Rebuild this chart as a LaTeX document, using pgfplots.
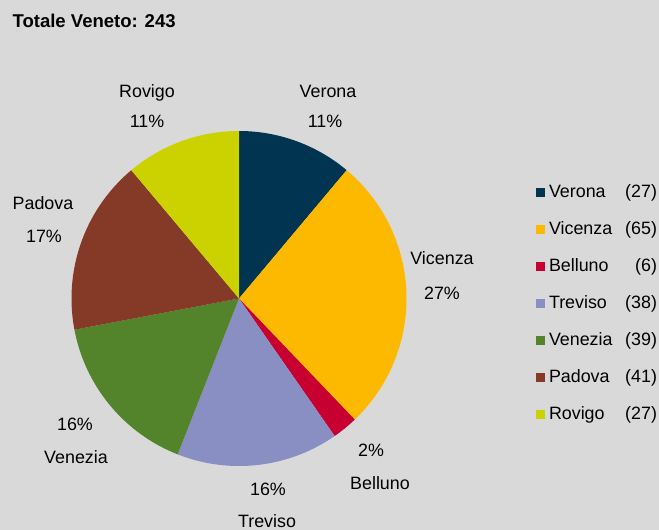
\documentclass[border=0pt]{standalone}
\usepackage{pgfplots}
\usepackage{pgfplotstable}
\pgfplotsset{compat=1.18}
\usepackage{fontspec}
\setmainfont{Liberation Sans}
\definecolor{bg}{RGB}{217,217,217}
\definecolor{c0}{RGB}{0,52,80}
\definecolor{c1}{RGB}{252,185,0}
\definecolor{c2}{RGB}{200,0,50}
\definecolor{c3}{RGB}{137,142,195}
\definecolor{c4}{RGB}{83,132,44}
\definecolor{c5}{RGB}{132,58,38}
\definecolor{c6}{RGB}{204,210,0}
\pgfplotstableread{
name value
Verona 27
Vicenza 65
Belluno 6
Treviso 38
Venezia 39
Padova 41
Rovigo 27
}\datatable
\newcommand\lfont{\fontsize{13.4}{16}\selectfont}
\begin{document}
\begin{tikzpicture}
\begin{axis}[
  scale only axis, width=494.25pt, height=397.5pt,
  xmin=0, xmax=659, ymin=0, ymax=530, y dir=reverse,
  hide axis, clip=false,
  legend style={at={(axis cs:536,184.6)}, anchor=north west, draw=none, fill=none,
    inner sep=0pt, outer sep=0pt, row sep=14.75pt, column sep=3pt,
    nodes={inner sep=0pt, text height=10pt, text depth=3pt, anchor=base west},
    font=\lfont},
  legend cell align=left,
]
\fill[bg] (axis cs:0,0) rectangle (axis cs:659,530);
\pgfmathsetmacro\cum{0}
\pgfplotsforeachungrouped \i in {0,...,6}{%
  \pgfplotstablegetelem{\i}{value}\of\datatable
  \let\val\pgfplotsretval
  \pgfplotstablegetelem{\i}{name}\of\datatable
  \let\nm\pgfplotsretval
  \pgfmathsetmacro\start{90-\cum/243*360}%
  \pgfmathsetmacro\cum{\cum+\val}%
  \pgfmathsetmacro\stop{90-\cum/243*360}%
  \edef\temp{\noexpand\addplot[fill=c\i, draw=none, domain=\start:\stop, samples=90, variable=\noexpand\t,
     legend image code/.code={\noexpand\fill[c\i] (0pt,0.7pt) rectangle (6.75pt,7.45pt);}]
     ({239+167.5*cos(\noexpand\t)}, {298.5-167.5*sin(\noexpand\t)}) -- (axis cs:239,298.5) -- cycle;
     \noexpand\addlegendentry{\noexpand\makebox[81pt][l]{\nm\noexpand\hfill(\val)}}}%
  \temp
}
\node[font=\fontsize{13.9}{16}\selectfont\bfseries, anchor=west, inner sep=0pt] at (axis cs:12.3,20.5) {Totale Veneto: 243};
\begin{scope}[every node/.style={font=\lfont, anchor=base, inner sep=0pt}]
\node at (axis cs:328,97.4) {Verona};
\node at (axis cs:325,127.4) {11\%};
\node at (axis cs:442,264.4) {Vicenza};
\node at (axis cs:442,299.9) {27\%};
\node at (axis cs:371,456.4) {2\%};
\node at (axis cs:380,489.9) {Belluno};
\node at (axis cs:268,495.4) {16\%};
\node at (axis cs:267,527.6) {Treviso};
\node at (axis cs:75,430.4) {16\%};
\node at (axis cs:76,463.4) {Venezia};
\node at (axis cs:43,209.4) {Padova};
\node at (axis cs:44,242.4) {17\%};
\node at (axis cs:147,97.4) {Rovigo};
\node at (axis cs:147,127.4) {11\%};
\end{scope}
\end{axis}
\pgfresetboundingbox
\path (current axis.south west) rectangle (current axis.north east);
\end{tikzpicture}
\end{document}
